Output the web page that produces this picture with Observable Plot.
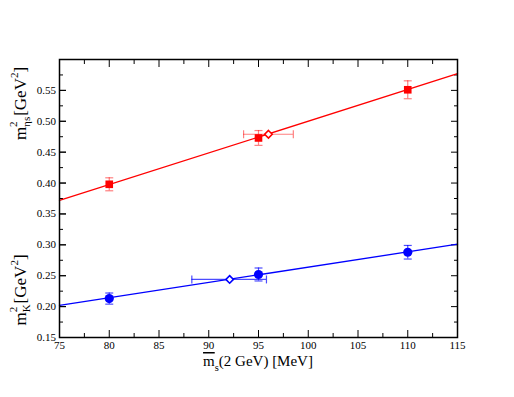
<!DOCTYPE html>
<html><head><meta charset="utf-8">
<script src="https://cdn.jsdelivr.net/npm/d3@7"></script>
<script src="https://cdn.jsdelivr.net/npm/@observablehq/plot@0.6"></script>
<style>
body{margin:0;background:#fff}
#chart{position:absolute;left:0;top:0}
#chart svg, #chart svg text{font-family:"Liberation Serif",serif !important}
</style>
</head><body><div id="chart"></div>
<script>
// tick values
const xMajor = [75, 80, 85, 90, 95, 100, 105, 110, 115];
const xMinor = [77.5, 82.5, 87.5, 92.5, 97.5, 102.5, 107.5, 112.5];
const yMajor = [0.15, 0.20, 0.25, 0.30, 0.35, 0.40, 0.45, 0.50, 0.55, 0.60];
const yMinor = [0.175, 0.225, 0.275, 0.325, 0.375, 0.425, 0.475, 0.525, 0.575];
const yLabelled = [0.15, 0.20, 0.25, 0.30, 0.35, 0.40, 0.45, 0.50, 0.55];

// lattice points: strange quark mass (MeV)
const msBar = [80, 95, 110];
// eta_s mass squared
const etaS = [0.398, 0.473, 0.551];
const etaSErr = [0.0105, 0.012, 0.0145];
// kaon mass squared
const kaon = [0.213, 0.252, 0.288];
const kaonErr = [0.009, 0.0105, 0.011];

// physical points (open diamonds) with horizontal errors
const etaSPhysX = [96.0];
const etaSPhysY = [0.479];
const etaSPhysXLo = [93.5];
const etaSPhysXHi = [98.5];
const kaonPhysX = [92.1];
const kaonPhysY = [0.244];
const kaonPhysXLo = [88.3];
const kaonPhysXHi = [95.8];

// linear fits (end points across the frame)
const fitX = [75, 115];
const etaSFit = [0.372, 0.577];
const kaonFit = [0.202, 0.301];

const RED = "#ff0000", BLUE = "#0000ff";
const pts = msBar.map((x, i) => ({x, e: etaS[i], ee: etaSErr[i], k: kaon[i], ke: kaonErr[i]}));
const ePhys = etaSPhysX.map((x, i) => ({x, y: etaSPhysY[i], lo: etaSPhysXLo[i], hi: etaSPhysXHi[i]}));
const kPhys = kaonPhysX.map((x, i) => ({x, y: kaonPhysY[i], lo: kaonPhysXLo[i], hi: kaonPhysXHi[i]}));
const eFit = fitX.map((x, i) => ({x, y: etaSFit[i]}));
const kFit = fitX.map((x, i) => ({x, y: kaonFit[i]}));

const hCap = {draw(ctx) { ctx.moveTo(-4, 0); ctx.lineTo(4, 0); }};
const vCap = {draw(ctx) { ctx.moveTo(0, -4); ctx.lineTo(0, 4); }};

function yErr(data, yk, ek, color, op) {
  return [
    Plot.ruleX(data, {x: "x", y1: d => d[yk] - d[ek], y2: d => d[yk] + d[ek], stroke: color, strokeOpacity: op, strokeWidth: 1.2}),
    Plot.dot(data, {x: "x", y: d => d[yk] - d[ek], symbol: hCap, fill: "none", stroke: color, strokeOpacity: op, strokeWidth: 1.2}),
    Plot.dot(data, {x: "x", y: d => d[yk] + d[ek], symbol: hCap, fill: "none", stroke: color, strokeOpacity: op, strokeWidth: 1.2})
  ];
}
function xErr(data, color, op) {
  return [
    Plot.ruleY(data, {y: "y", x1: "lo", x2: "hi", stroke: color, strokeOpacity: op, strokeWidth: 1.2}),
    Plot.dot(data, {x: "lo", y: "y", symbol: vCap, fill: "none", stroke: color, strokeOpacity: op, strokeWidth: 1.2}),
    Plot.dot(data, {x: "hi", y: "y", symbol: vCap, fill: "none", stroke: color, strokeOpacity: op, strokeWidth: 1.2})
  ];
}

const tickFont = {fontSize: 11, fontFamily: "Liberation Serif", fill: "#000"};
const plot = Plot.plot({
  width: 514, height: 397,
  marginLeft: 59, marginRight: 57, marginTop: 59, marginBottom: 60,
  style: {fontFamily: "Liberation Serif", fontSize: "11px", background: "#fff", color: "#000"},
  x: {domain: [75, 115]},
  y: {domain: [0.15, 0.60]},
  marks: [
    Plot.axisX({anchor: "bottom", ticks: xMajor, tickSize: -7, tickPadding: 10.5, tickFormat: d => String(d), label: null, ...tickFont}),
    Plot.axisX({anchor: "top", ticks: xMajor, tickSize: -7, tickFormat: () => "", label: null}),
    Plot.axisX({anchor: "bottom", ticks: xMinor, tickSize: -4, tickFormat: () => "", label: null}),
    Plot.axisX({anchor: "top", ticks: xMinor, tickSize: -4, tickFormat: () => "", label: null}),
    Plot.axisY({anchor: "left", ticks: yMajor, tickSize: -7, tickFormat: () => "", label: null}),
    Plot.axisY({anchor: "left", ticks: yLabelled, tickSize: -7, tickPadding: 10.5, tickFormat: d => d.toFixed(2), label: null, ...tickFont}),
    Plot.axisY({anchor: "right", ticks: yMajor, tickSize: -7, tickFormat: () => "", label: null}),
    Plot.axisY({anchor: "left", ticks: yMinor, tickSize: -4, tickFormat: () => "", label: null}),
    Plot.axisY({anchor: "right", ticks: yMinor, tickSize: -4, tickFormat: () => "", label: null}),
    Plot.line(eFit, {x: "x", y: "y", stroke: RED, strokeWidth: 1.3}),
    Plot.line(kFit, {x: "x", y: "y", stroke: BLUE, strokeWidth: 1.3}),
    ...yErr(pts, "e", "ee", RED, 0.5),
    ...yErr(pts, "k", "ke", BLUE, 0.7),
    ...xErr(ePhys, RED, 0.5),
    ...xErr(kPhys, BLUE, 0.7),
    Plot.dot(pts, {x: "x", y: "e", symbol: "square", r: 4.3, fill: RED, stroke: "none"}),
    Plot.dot(pts, {x: "x", y: "k", symbol: "circle", r: 4.6, fill: BLUE, stroke: "none"}),
    Plot.dot(ePhys, {x: "x", y: "y", symbol: "diamond2", r: 3.4, fill: "#fff", stroke: RED, strokeWidth: 1.6}),
    Plot.dot(kPhys, {x: "x", y: "y", symbol: "diamond2", r: 3.4, fill: "#fff", stroke: BLUE, strokeWidth: 1.6}),
    Plot.frame({stroke: "#000", strokeWidth: 1.5})
  ]
});
document.getElementById("chart").appendChild(plot);

// axis titles
const svg = d3.select(plot);
function yTitle(cy, sub) {
  const t = svg.append("text")
    .attr("transform", `translate(25.5,${cy}) rotate(-90)`)
    .attr("text-anchor", "middle")
    .attr("font-family", "Liberation Serif").attr("font-size", 17).attr("fill", "#000");
  t.append("tspan").text("m");
  t.append("tspan").attr("font-size", 11).attr("dy", -9).text("2");
  t.append("tspan").attr("font-size", 11).attr("dx", -5.5).attr("dy", 13).text(sub);
  t.append("tspan").attr("dy", -4).attr("dx", 1).text("[GeV");
  t.append("tspan").attr("font-size", 11).attr("dy", -8).text("2");
  t.append("tspan").attr("dy", 8).text("]");
}
yTitle(103.5, "ηs");
yTitle(290, "K");

const xt = svg.append("text")
  .attr("x", 258).attr("y", 366)
  .attr("text-anchor", "middle")
  .attr("font-family", "Liberation Serif").attr("font-size", 15).attr("fill", "#000");
xt.append("tspan").attr("text-decoration", "overline").text("m");
xt.append("tspan").attr("font-size", 10.5).attr("dy", 5).text("s");
xt.append("tspan").attr("dy", -5).text("(2 GeV) [MeV]");
</script>
</body></html>
